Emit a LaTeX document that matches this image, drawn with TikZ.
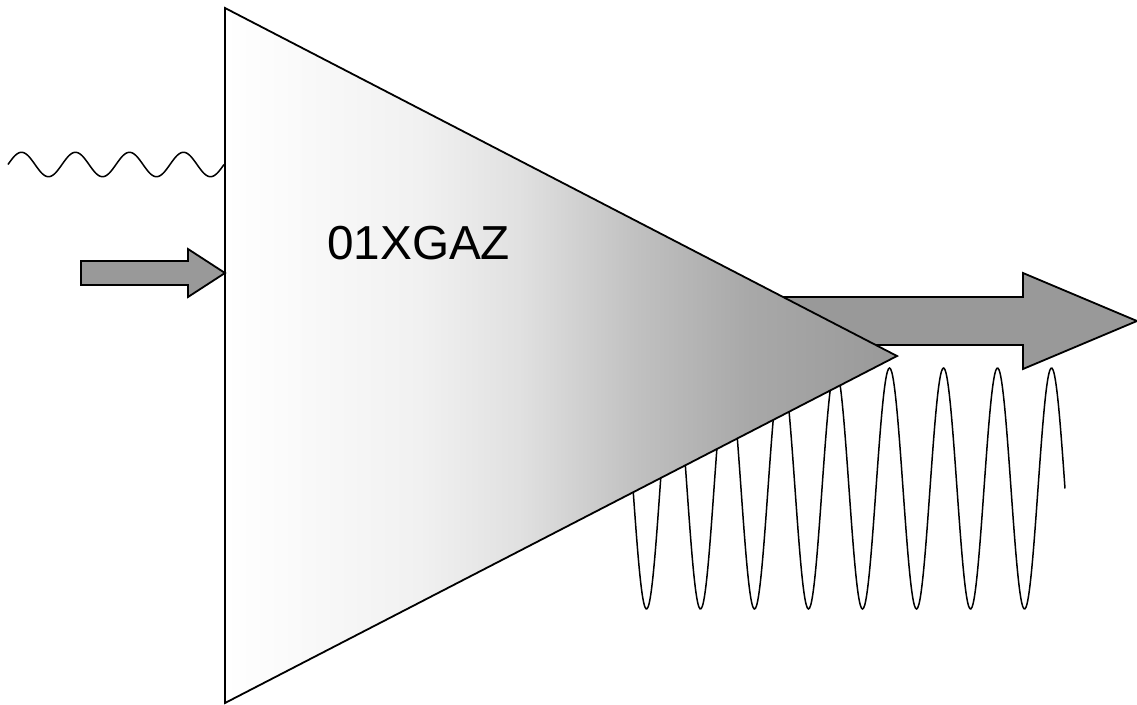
\documentclass[tikz,border=0pt]{standalone}
\usepackage{fontspec}
\setmainfont{Liberation Sans}
\definecolor{arrowgray}{gray}{0.6}
\pgfdeclarehorizontalshading{ampfade}{100bp}{
  rgb(0bp)=(1,1,1); rgb(25bp)=(1,1,1); rgb(39.5bp)=(.945,.945,.945); rgb(47bp)=(.88,.88,.88);
  rgb(56bp)=(.75,.75,.75); rgb(64bp)=(.66,.66,.66); rgb(75bp)=(.6,.6,.6); rgb(100bp)=(.6,.6,.6)}
\begin{document}
\begin{tikzpicture}[
  x=1pt, y=-1pt,
  wave/.style={draw=black, line width=1.5pt, smooth},
  arrowbox/.style={draw=black, fill=arrowgray, line width=1.8pt, line join=miter},
  amp/.style={draw=black, line width=1.8pt, shade, shading=ampfade},
  lbl/.style={font=\fontsize{47.7}{48}\selectfont, inner sep=0pt}
]
\useasboundingbox (0,0) rectangle (1137,704);

% input and output signals
\draw[wave] plot[domain=8:224, samples=160] (\x, {164.5-12.2*sin((\x-8)/54*360)});
\draw[wave] plot[domain=633:1065, samples=400] (\x, {488.5+120.5*sin((\x-633)/54*360)});

% output arrow, goes under the triangle
\draw[arrowbox] (700,297) -- (1023,297) -- (1023,273) -- (1137,321) -- (1023,369)
  -- (1023,345) -- (700,345) -- cycle;

% amplifier
\path[amp] (225,8) -- (897,356) -- (225,703) -- cycle;
\node[lbl, anchor=base west] (gain) at (327,259.5) {01XGAZ};

% input arrow
\draw[arrowbox] (81,261) -- (188,261) -- (188,249) -- (225,273) -- (188,297)
  -- (188,285) -- (81,285) -- cycle;
\end{tikzpicture}
\end{document}
